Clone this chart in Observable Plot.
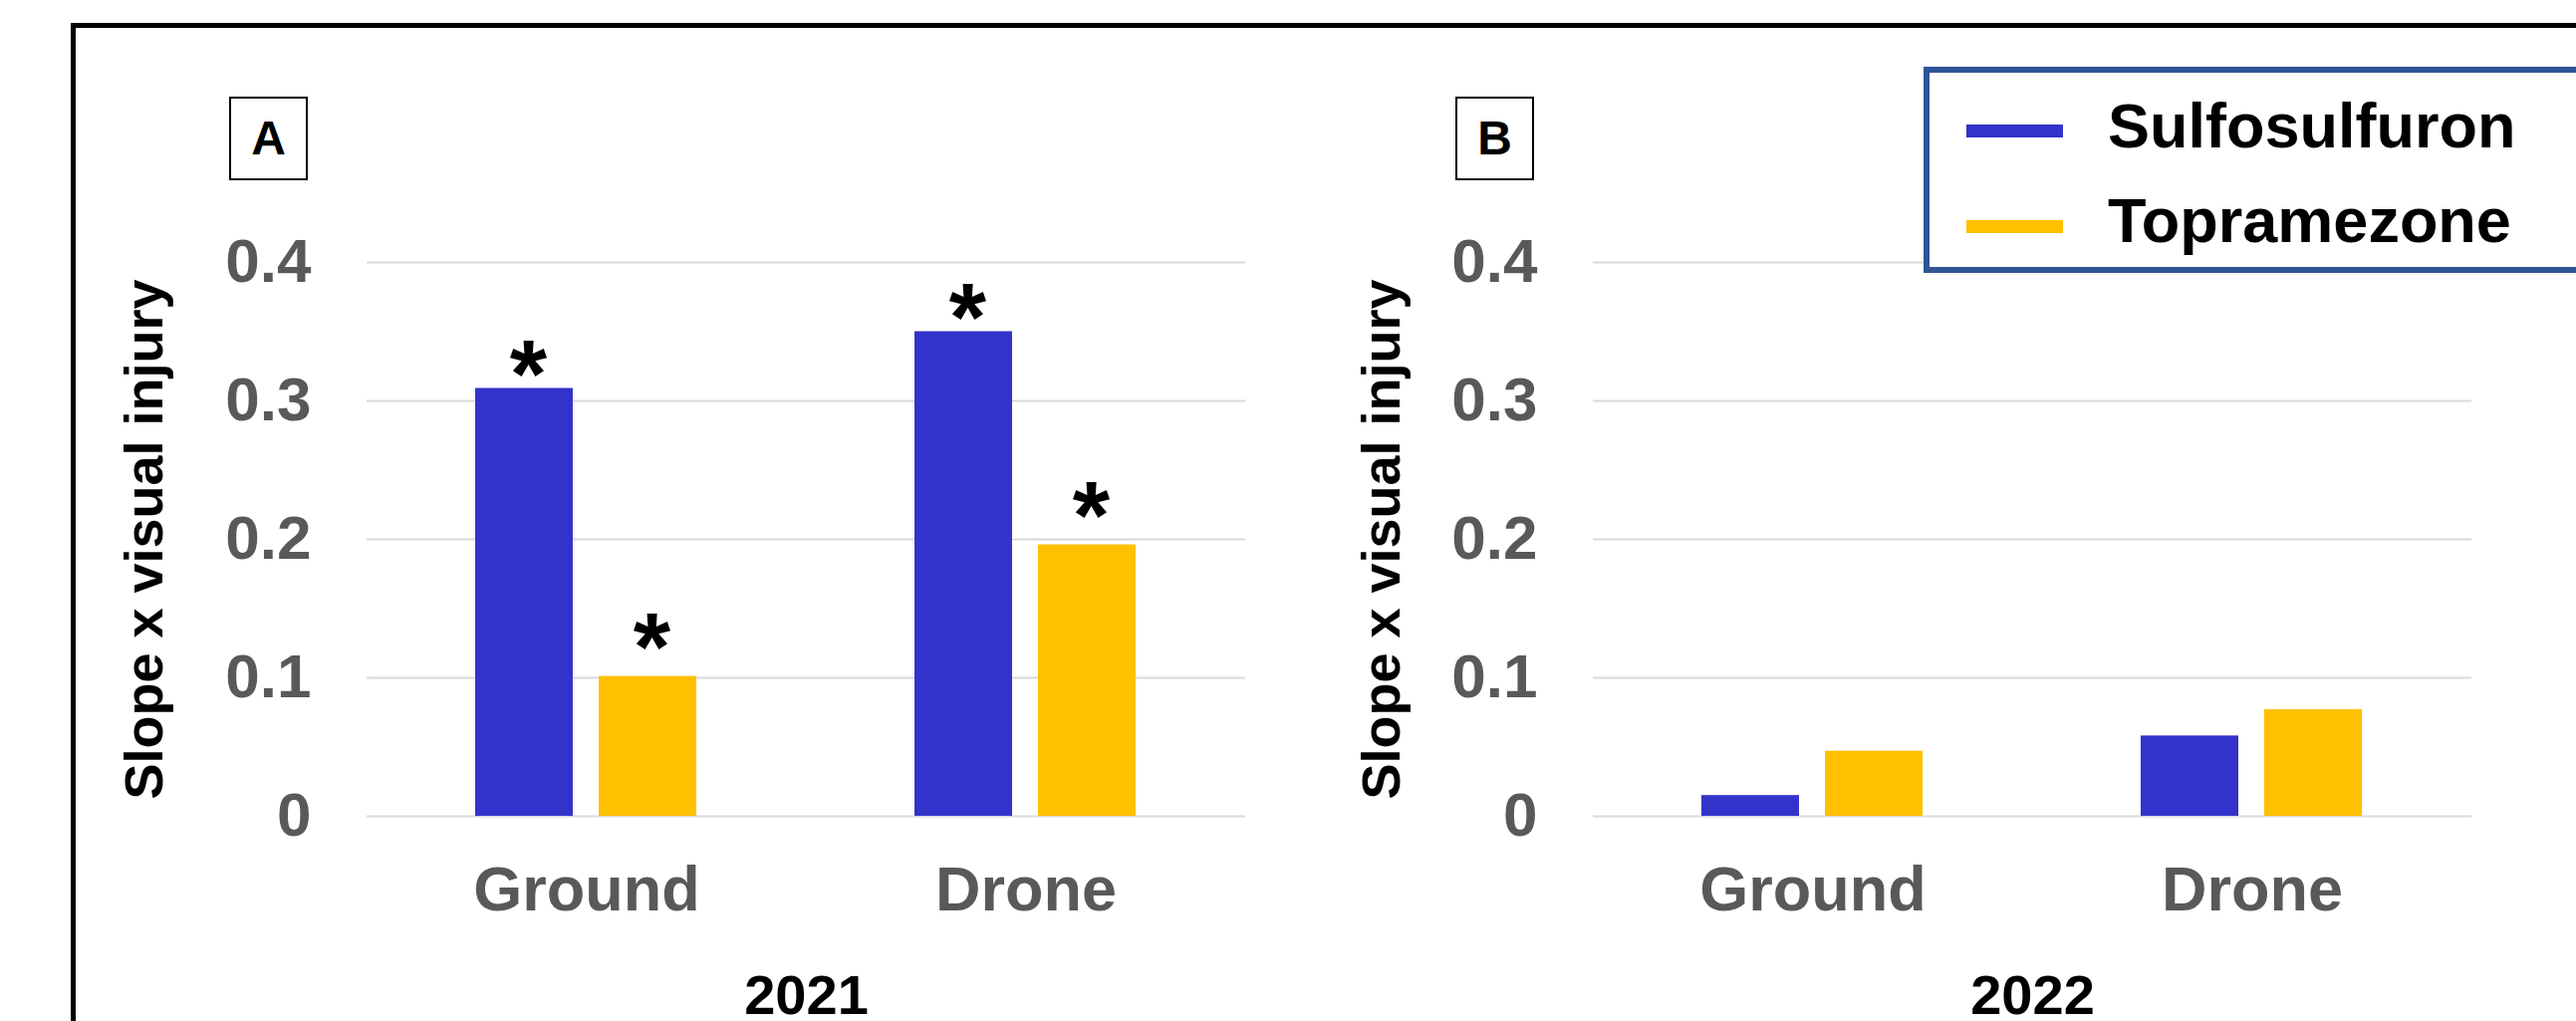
<!DOCTYPE html>
<html>
<head>
<meta charset="utf-8">
<script src="https://cdn.jsdelivr.net/npm/d3@7"></script>
<script src="https://cdn.jsdelivr.net/npm/@observablehq/plot@0.6"></script>
<style>
  html, body { margin: 0; padding: 0; background: #fff; }
  body { width: 2586px; height: 1025px; overflow: hidden; position: relative; font-family: "Liberation Sans", Arial, sans-serif; }
  .abs { position: absolute; }
  .frame { left: 71px; top: 23px; width: 3000px; height: 2000px; border: 5px solid #000; box-sizing: border-box; }
  .tag { width: 79px; height: 84px; border: 2px solid #000; box-sizing: border-box; font-weight: bold; font-size: 48px; line-height: 80px; text-align: center; color: #000; background: #fff; }
  .legend { left: 1931px; top: 67px; width: 800px; height: 207px; border: 6px solid #2F5597; box-sizing: border-box; background: #fff; }
  .sw { left: 1974px; width: 97px; height: 13px; }
  .lt { left: 2116px; font-weight: bold; font-size: 63px; line-height: 63px; color: #000; white-space: nowrap; }
  .panel { top: 0; }
  svg [aria-label="y-axis label"] text { font-size: 54px; fill: #000; }
  svg [aria-label="fx-axis label"] text { font-size: 56px; fill: #000; }
</style>
</head>
<body>
<div class="abs frame"></div>
<div id="pA" class="abs panel" style="left:0px"></div>
<div id="pB" class="abs panel" style="left:1300px"></div>
<div class="abs tag" style="left:230px; top:97px">A</div>
<div class="abs tag" style="left:1461px; top:97px">B</div>
<div class="abs legend"></div>
<div class="abs sw" style="top:125px; background:#3333CC"></div>
<div class="abs sw" style="top:221px; background:#FFC000"></div>
<div class="abs lt" style="top:95px">Sulfosulfuron</div>
<div class="abs lt" style="top:190px">Topramezone</div>
<script>
// ---- data ----
const categories = ["Ground", "Drone"];
const series = ["Sulfosulfuron", "Topramezone"];
const colors = ["#3333CC", "#FFC000"];
const sulfo2021 = [0.309, 0.350];
const topra2021 = [0.101, 0.196];
const sulfo2022 = [0.015, 0.058];
const topra2022 = [0.047, 0.077];
const starSulfo2021 = [true, true];
const starTopra2021 = [true, true];
const starSulfo2022 = [false, false];
const starTopra2022 = [false, false];
const yTicks = [0, 0.1, 0.2, 0.3, 0.4];
const yTickLabels = ["0", "0.1", "0.2", "0.3", "0.4"];
const yTitle = "Slope x visual injury";

function rows(s, t) {
  const out = [];
  categories.forEach((c, i) => {
    out.push({cat: c, series: series[0], value: s[i]});
    out.push({cat: c, series: series[1], value: t[i]});
  });
  return out;
}
function starRows(vals, flags, ser) {
  return categories.map((c, i) => ({cat: c, series: ser, value: vals[i], star: flags[i]})).filter(d => d.star);
}

function panel({width, marginLeft, marginRight, year, s, t, ss, st, labelOffset}) {
  return Plot.plot({
    width, height: 1025,
    marginLeft, marginRight, marginTop: 263, marginBottom: 206,
    style: {fontFamily: "'Liberation Sans', Arial, sans-serif", background: "transparent", overflow: "visible"},
    fx: {domain: categories, padding: 0},
    x: {domain: series, paddingInner: 0.208, paddingOuter: 0.87, axis: null},
    y: {domain: [0, 0.4], axis: null},
    color: {domain: series, range: colors},
    marks: [
      Plot.gridY(yTicks, {stroke: "#d9d9d9", strokeOpacity: 1, strokeWidth: 2}),
      Plot.axisY(yTicks, {
        anchor: "left", tickSize: 0, tickPadding: 56,
        tickFormat: d => yTickLabels[yTicks.indexOf(d)],
        fontSize: 62, fontWeight: "bold", fill: "#595959",
        label: yTitle, labelAnchor: "center", labelOffset, labelArrow: "none"
      }),
      Plot.axisFx({
        anchor: "bottom", tickSize: 0, tickPadding: 50,
        fontSize: 63, fontWeight: "bold", fill: "#595959",
        label: year, labelAnchor: "center", labelOffset: 198, labelArrow: "none"
      }),
      Plot.barY(rows(s, t), {fx: "cat", x: "series", y: "value", fill: "series"}),
      Plot.text(starRows(s, ss, series[0]), {fx: "cat", x: "series", y: "value", text: () => "*", fontSize: 96, fontWeight: "bold", fill: "#000", lineAnchor: "bottom", dy: 18, dx: 4}),
      Plot.text(starRows(t, st, series[1]), {fx: "cat", x: "series", y: "value", text: () => "*", fontSize: 96, fontWeight: "bold", fill: "#000", lineAnchor: "bottom", dy: 3, dx: 4})
    ]
  });
}

document.getElementById("pA").append(panel({
  width: 1300, marginLeft: 367, marginRight: 50, year: "2021",
  s: sulfo2021, t: topra2021, ss: starSulfo2021, st: starTopra2021, labelOffset: 244
}));
document.getElementById("pB").append(panel({
  width: 1286, marginLeft: 299, marginRight: 105, year: "2022",
  s: sulfo2022, t: topra2022, ss: starSulfo2022, st: starTopra2022, labelOffset: 233
}));
</script>
</body>
</html>
